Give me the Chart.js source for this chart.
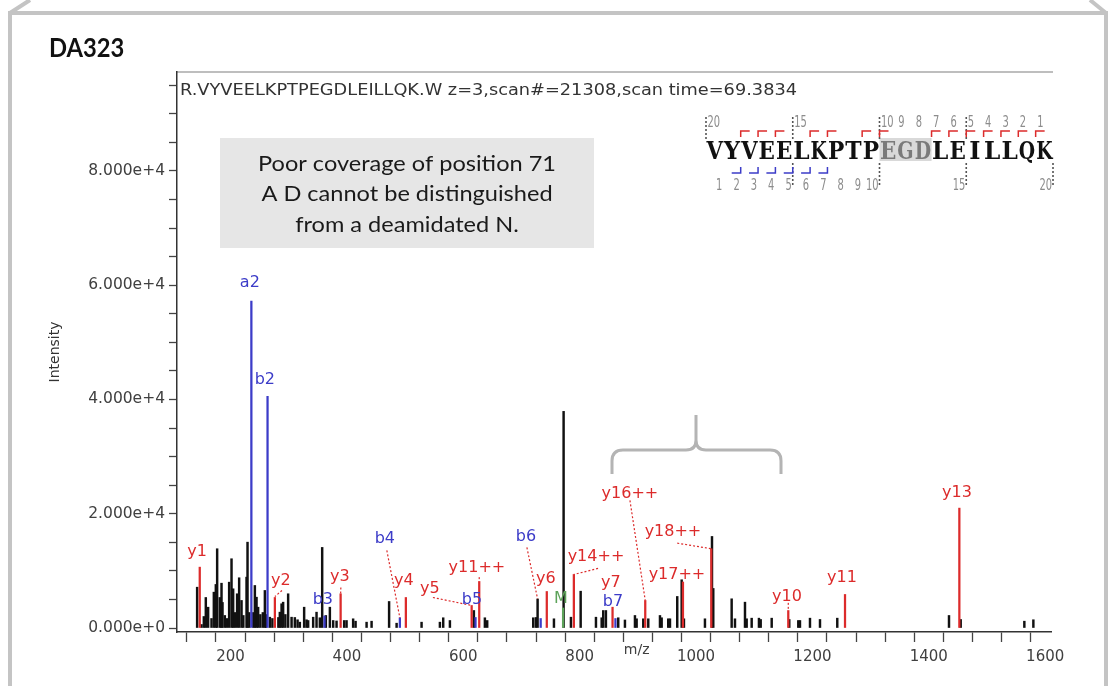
<!DOCTYPE html>
<html><head><meta charset="utf-8">
<script src="https://cdn.jsdelivr.net/npm/chart.js@4.4.1/dist/chart.umd.min.js"></script>
<style>html,body{margin:0;padding:0;background:#fff;}#wrap{width:1113px;height:686px;}</style>
</head><body><div id="wrap"><canvas id="c" width="1113" height="686"></canvas></div>
<script>
// ---------- DATA ----------
const peptide = "VYVEELKPTPEGDLEILLQK";
const titleText = "R.VYVEELKPTPEGDLEILLQK.W z=3,scan#=21308,scan time=69.3834";
const noteLines = ["Poor coverage of position 71", "A D cannot be distinguished", "from a deamidated N."];
const panelLabel = "DA323";

const blackMz = [142.6,150.1,154.1,157.5,161.5,167.3,171.3,174.7,177.0,181.6,
  184.5,186.2,190.2,193.6,197.6,201.7,204.5,207.4,211.3,214.8,
  218.9,222.0,227.5,229.2,232.3,239.2,241.8,244.7,247.4,251.2,
  255.5,259.0,260.7,267.6,271.9,282.2,284.7,287.7,290.4,294.2,
  299.0,304.9,310.5,315.2,319.1,326.5,330.6,333.4,342.0,347.8,
  353.5,357.5,363.8,370.7,376.4,382.2,395.3,399.4,410.7,414.9,
  433.8,442.4,472.5,485.4,528.3,559.8,565.5,577.0,618.2,637.1,
  641.1,720.2,724.8,727.7,755.8,772.4,785.0,801.7,828.0,837.8,
  840.5,845.1,866.3,877.8,895.0,897.9,909.3,917.9,938.0,940.9,
  952.2,955.2,967.7,975.3,979.2,1015.3,1027.4,1029.6,1061.2,1066.9,
  1084.1,1087.0,1095.6,1108.1,1111.1,1130.0,1160.2,1175.7,1178.6,1195.8,
  1213.0,1242.7,1434.7,1454.8,1564.2,1579.7];
const blackInt = [7140,610,2010,5340,3640,1660,6270,7620,13870,5340,
  7840,4470,2190,1660,8020,12120,6860,2710,5990,8790,
  4820,2190,8900,15020,2710,2710,7440,5390,3640,2360,
  2710,6570,2360,1890,1660,1840,2770,4240,4520,2360,
  5990,1890,1840,1440,1020,3640,1440,1310,1890,2770,
  1790,14100,2190,3640,1310,1230,1310,1310,1610,1190,
  1020,1190,4640,840,1020,1020,1790,1310,3060,1790,
  1310,1790,1840,5080,1610,37910,1890,6440,1890,1790,
  3060,3060,1790,1400,2190,1610,1610,1610,2190,1790,
  1610,1610,5520,8440,1610,1610,16020,6920,5110,1610,
  4520,1610,1720,1720,1490,1720,1490,1310,1310,1720,
  1490,1720,2190,1490,1190,1440];

const yIonNames = ["y1","y2","y3","y4","y5","y11++","y6","y14++","y7","y16++","y17++","y18++","y10","y11","y13"];
const yIonMz    = [147.1,276.2,389.2,501.3,614.4,627.4,743.5,790.0,856.5,912.7,977.5,1026.2,1158.5,1256.0,1452.5];
const yIonInt   = [10650,5340,5990,5340,3940,8140,6390,9370,3640,4820,8050,13870,3060,5870,20980];
const yLabelMz  = [142.4,286.5,387.9,497.9,542.6,623.4,741.9,828.0,853.7,886.4,967.2,960.3,1156.3,1250.8,1448.5];
const yLabelInt = [13400,8320,9020,8320,6920,10590,8670,12520,7970,23550,9370,16900,5520,8840,23730];

const bIonNames = ["a2","b2","b3","b4","b5","b6","b7"];
const bIonMz    = [235.8,263.6,361.5,491.0,621.0,733.0,861.5];
const bIonInt   = [57220,40540,2100,1790,1840,1660,1660];
const bLabelMz  = [233.2,259.0,358.7,465.2,614.8,707.6,857.2];
const bLabelInt = [60320,43510,4990,15670,4990,16020,4640];

const precName = ["M"];
const precMz   = [771.5];
const precInt  = [3500];
const precLabelMz  = [767.7];
const precLabelInt = [5170];

// leader lines: [fromMz, fromInt, toMz, toInt]
const leaders = [[288.4,6570,276.2,5500],[389.6,7090,389.2,5990],[468.6,13570,491.0,1790],
  [547.8,5340,614.4,3940],[627.4,8900,627.4,8140],[709.3,14100,727.7,5080],
  [831.6,10420,790.0,9370],[886.4,22330,912.7,4820],[967.7,14850,1026.2,13870],[1158.5,4400,1158.5,3060]];

// sequence coverage (fragment numbers observed)
const seqYObserved = [1,2,3,4,5,6,7,10,11,13,14,16,17,18];
const seqBObserved = [2,3,4,5,6,7];
const seqTopNums = [20,15,10,9,8,7,6,5,4,3,2,1];
const seqBottomNums = [1,2,3,4,5,6,7,8,9,10,15,20];
const seqHighlight = [10,13];

const xTickValues = []; for (let v=150; v<=1600; v+=50) xTickValues.push(v);
const yTickValues = []; for (let v=0; v<=95000; v+=5000) yTickValues.push(v);

// ---------- STYLE ----------
const RED="#dc2b2b", BLUE="#3c3cc8", GREEN="#5da35a", BLACK="#111";
const SANS='"DejaVu Sans", Verdana, sans-serif';

function txt(ctx,s,x,y,font,color,sx,align,base){
  ctx.save(); ctx.font=font; ctx.fillStyle=color; ctx.textAlign=align||'center'; ctx.textBaseline=base||'middle';
  ctx.translate(x,y); ctx.scale(sx||1,1); ctx.fillText(s,0,0); ctx.restore();
}

const decor = {
  id:'decor',
  beforeDraw(chart){
    const ctx=chart.ctx;
    ctx.save();
    ctx.fillStyle='#fff'; ctx.fillRect(0,0,chart.width,chart.height);
    // slide frame
    ctx.strokeStyle='#c4c4c4'; ctx.lineWidth=4;
    ctx.beginPath();
    ctx.moveTo(10,686); ctx.lineTo(10,13); ctx.lineTo(1106,13); ctx.lineTo(1106,686);
    ctx.moveTo(10,13); ctx.lineTo(30,0);
    ctx.moveTo(1106,13); ctx.lineTo(1090,0);
    ctx.stroke();
    txt(ctx,panelLabel,49,48,'bold 27px Lato','#111',0.88,'left');
    // plot top border
    const a=chart.chartArea;
    ctx.strokeStyle='#a8a8a8'; ctx.lineWidth=1.5;
    ctx.beginPath(); ctx.moveTo(a.left,a.top); ctx.lineTo(a.right+2,a.top); ctx.stroke();
    // note box
    ctx.fillStyle='#e6e6e6'; ctx.fillRect(220,138,374,110);
    ctx.font='21px Lato';
    const nw=ctx.measureText(noteLines[0]).width;
    noteLines.forEach((l,i)=>txt(ctx,l,407,164+i*30.5,'21px Lato','#1a1a1a',298/nw));
    // bracket
    ctx.strokeStyle='#b4b4b4'; ctx.lineWidth=3;
    ctx.beginPath();
    ctx.moveTo(612,474); ctx.lineTo(612,461); ctx.quadraticCurveTo(612,450,623,450);
    ctx.lineTo(686,450); ctx.quadraticCurveTo(696,450,696,440); ctx.lineTo(696,415);
    ctx.moveTo(696,440); ctx.quadraticCurveTo(696,450,706,450);
    ctx.lineTo(770,450); ctx.quadraticCurveTo(781,450,781,461); ctx.lineTo(781,474);
    ctx.stroke();
    drawSequence(ctx);
    ctx.restore();
  },
  afterDatasetsDraw(chart){
    const ctx=chart.ctx, xs=chart.scales.x, ys=chart.scales.y;
    ctx.save();
    ctx.strokeStyle=RED; ctx.lineWidth=1.2; ctx.setLineDash([2,2]);
    leaders.forEach(l=>{
      ctx.beginPath(); ctx.moveTo(xs.getPixelForValue(l[0]),ys.getPixelForValue(l[1]));
      ctx.lineTo(xs.getPixelForValue(l[2]),ys.getPixelForValue(l[3])); ctx.stroke();
    });
    ctx.setLineDash([]);
    const f='16px '+SANS;
    yIonNames.forEach((n,i)=>txt(ctx,n,xs.getPixelForValue(yLabelMz[i]),ys.getPixelForValue(yLabelInt[i]),f,RED,1.0));
    bIonNames.forEach((n,i)=>txt(ctx,n,xs.getPixelForValue(bLabelMz[i]),ys.getPixelForValue(bLabelInt[i]),f,BLUE,1.0));
    precName.forEach((n,i)=>txt(ctx,n,xs.getPixelForValue(precLabelMz[i]),ys.getPixelForValue(precLabelInt[i]),f,GREEN,1.0));
    ctx.font='15px '+SANS;
    const w=ctx.measureText(titleText).width;
    txt(ctx,titleText,chart.chartArea.left+3,91,'15px '+SANS,'#333',617/w,'left');
    txt(ctx,'m/z',xs.getPixelForValue(898),650,'14px '+SANS,'#404040',1);
    ctx.restore();
  }
};

function drawSequence(ctx){
  const x0=706, cw=17.35, bx=i=>x0+i*cw;
  ctx.fillStyle='#d9d9d9';
  ctx.fillRect(bx(seqHighlight[0]),138,bx(seqHighlight[1])-bx(seqHighlight[0]),23);
  const sf='bold 24px "DejaVu Serif", "Liberation Serif", serif';
  ctx.font=sf;
  for(let i=0;i<peptide.length;i++){
    const hl=i>=seqHighlight[0]&&i<seqHighlight[1];
    const w=ctx.measureText(peptide[i]).width;
    const s=Math.min(1,(cw-1)/w);
    txt(ctx,peptide[i],bx(i)+cw/2,159,sf,hl?'#7a7a7a':'#111',s,'center','alphabetic');
    ctx.font=sf;
  }
  seqTopNums.forEach(n=>txt(ctx,String(n),bx(20-n)+1.5,127,'15px '+SANS,'#8c8c8c',0.66,'left','alphabetic'));
  seqBottomNums.forEach(n=>txt(ctx,String(n),bx(n)-1,190,'15px '+SANS,'#8c8c8c',0.66,'right','alphabetic'));
  ctx.strokeStyle='#555'; ctx.lineWidth=1.6; ctx.setLineDash([2,2]);
  [0,5,10,15].forEach(b=>{ctx.beginPath();ctx.moveTo(bx(b),117);ctx.lineTo(bx(b),141);ctx.stroke();});
  [5,10,15,20].forEach(b=>{ctx.beginPath();ctx.moveTo(bx(b),163);ctx.lineTo(bx(b),186);ctx.stroke();});
  ctx.setLineDash([]);
  ctx.lineWidth=1.5;
  ctx.strokeStyle=RED;
  seqYObserved.forEach(n=>{const x=bx(20-n);ctx.beginPath();ctx.moveTo(x,137);ctx.lineTo(x,131);ctx.lineTo(x+9,131);ctx.stroke();});
  ctx.strokeStyle=BLUE;
  seqBObserved.forEach(n=>{const x=bx(n);ctx.beginPath();ctx.moveTo(x-9,173);ctx.lineTo(x,173);ctx.lineTo(x,167);ctx.stroke();});
}

const mk=(mz,it)=>mz.map((m,i)=>({x:m,y:it[i]}));
new Chart(document.getElementById('c'),{
  type:'bar',
  data:{datasets:[
    {label:'y ions',data:mk(yIonMz,yIonInt),backgroundColor:RED,barThickness:1.6,grouped:false,order:1},
    {label:'b ions',data:mk(bIonMz,bIonInt),backgroundColor:BLUE,barThickness:1.6,grouped:false,order:1},
    {label:'precursor',data:mk(precMz,precInt),backgroundColor:GREEN,barThickness:1.6,grouped:false,order:1},
    {label:'unassigned',data:mk(blackMz,blackInt),backgroundColor:BLACK,barThickness:1.8,grouped:false,order:5}
  ]},
  options:{
    responsive:false, animation:false,
    layout:{padding:{left:0,right:62,top:72,bottom:0}},
    plugins:{legend:{display:false},tooltip:{enabled:false}},
    scales:{
      x:{type:'linear',min:108,max:1610,offset:false,
        afterBuildTicks:s=>{s.ticks=xTickValues.map(v=>({value:v}));},
        afterFit:s=>{s.height=54;},
        ticks:{autoSkip:false,maxRotation:0,padding:6,color:'#404040',font:{family:SANS,size:15},
          callback:v=>v%200===0?String(v):''},
        grid:{drawOnChartArea:false,tickLength:10,tickColor:'#444',tickWidth:1.3},
        border:{color:'#333',width:1.5}},
      y:{type:'linear',min:-700,max:97300,
        afterBuildTicks:s=>{s.ticks=yTickValues.map(v=>({value:v}));},
        afterFit:s=>{s.width=177;},
        ticks:{autoSkip:false,padding:4,color:'#404040',font:{family:SANS,size:15.5},
          callback:v=>v%20000===0?Number(v).toExponential(3):''},
        grid:{drawOnChartArea:false,tickLength:8,tickColor:'#444',tickWidth:1.3},
        border:{color:'#333',width:1.5},
        title:{display:true,text:'Intensity',color:'#333',font:{family:SANS,size:14},padding:{top:47,bottom:0}}}
    }
  },
  plugins:[decor]
});
</script></body></html>
